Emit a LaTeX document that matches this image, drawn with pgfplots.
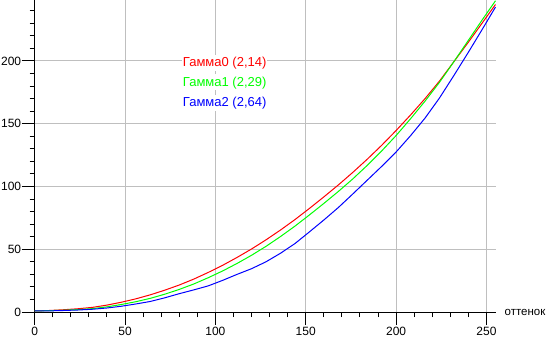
\documentclass[border=0pt]{standalone}
\usepackage{fontspec}
\setmainfont{Liberation Sans}
\usepackage{pgfplots}
\usepackage{pgfplotstable}
\pgfplotsset{compat=1.18}
\pgfplotstableread{
x red green blue
0 0.8 0.8 0.8
8 1.2 1.1 0.9
16 1.8 1.4 1.2
24 2.6 1.9 1.6
32 3.7 2.7 2.2
40 5.5 4.1 3.2
48 7.8 6.0 4.6
56 10.5 8.2 6.4
64 13.7 10.9 8.4
72 17.4 14.2 11.3
80 21.5 18.0 14.6
88 26.2 22.3 17.6
96 31.5 27.3 20.8
104 37.2 32.7 25.2
112 43.5 38.7 30.0
120 50.2 45.2 34.5
128 57.5 52.3 40.0
136 65.3 60.1 46.8
144 73.6 68.4 54.5
152 82.5 77.3 63.8
160 91.7 86.5 73.3
168 101.2 96.0 83.2
176 111.2 106.0 94.0
184 121.7 116.8 105.0
192 132.8 128.3 116.0
200 144.6 140.6 127.5
208 157.0 154.0 140.5
216 170.0 168.0 154.5
224 184.0 183.0 170.5
232 199.5 199.5 188.5
240 215.0 216.5 207.0
248 231.0 233.5 226.0
255 245.0 248.0 243.0
}\gammadata
\begin{document}
\begin{tikzpicture}[x=1pt,y=1pt]
\useasboundingbox (-34.7,-26) rectangle (512.3,312);
\begin{axis}[
  at={(0,0)}, anchor=south west,
  width=460.8pt, height=312pt, scale only axis,
  xmin=0, xmax=255, ymin=0, ymax=248.6,
  axis lines=left,
  axis line style={-, black, line width=1pt},
  xtick={0,50,...,250}, ytick={0,50,...,200},
  minor xtick={0,10,...,250}, minor ytick={0,10,...,240},
  tick align=outside,
  major tick length=13pt, minor tick length=5pt,
  tick style={black, line width=1pt},
  xmajorgrids, ymajorgrids,
  major grid style={gray!50, line width=1pt},
  minor grid style={draw=none},
  ticklabel style={font=\fontsize{12}{14}\selectfont},
  yticklabel style={xshift=3pt},
  xticklabel style={yshift=1.5pt},
  /pgf/number format/assume math mode=true,
  clip=false,
]
\addplot[red, line width=1pt] table[x=x, y=red] {\gammadata};
\addplot[green, line width=1pt] table[x=x, y=green] {\gammadata};
\addplot[blue, line width=1pt] table[x=x, y=blue] {\gammadata};
\node[anchor=west, fill=white, inner xsep=1pt, inner ysep=1pt, text height=11pt, text depth=3pt, text=red, font=\fontsize{13}{15}\selectfont] at (axis cs:81.4,198.6) {Гамма0 (2,14)};
\node[anchor=west, fill=white, inner xsep=1pt, inner ysep=1pt, text height=11pt, text depth=3pt, text=green, font=\fontsize{13}{15}\selectfont] at (axis cs:81.4,183) {Гамма1 (2,29)};
\node[anchor=west, fill=white, inner xsep=1pt, inner ysep=1pt, text height=11pt, text depth=3pt, text=blue, font=\fontsize{13}{15}\selectfont] at (axis cs:81.4,166.8) {Гамма2 (2,64)};
\node[anchor=west, inner sep=0pt, font=\fontsize{11.5}{13}\selectfont] at (rel axis cs:1,0) [xshift=9pt] {оттенок};
\end{axis}
\end{tikzpicture}
\end{document}
